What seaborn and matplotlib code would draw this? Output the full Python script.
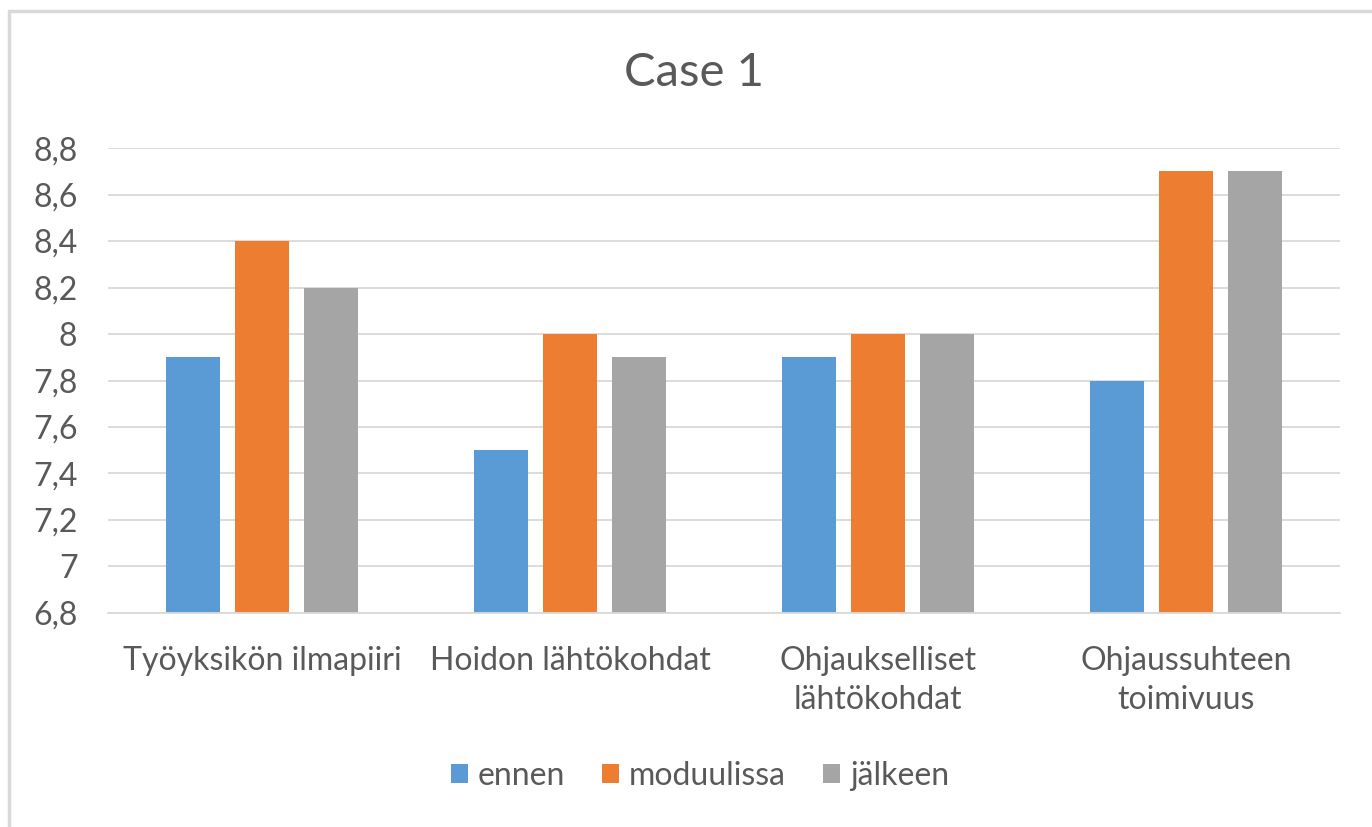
import pandas as pd
import matplotlib.pyplot as plt
import seaborn as sns
from matplotlib.ticker import FuncFormatter, MultipleLocator
from matplotlib.patches import Rectangle

# Data
categories = ['Työyksikön ilmapiiri', 'Hoidon lähtökohdat',
              'Ohjaukselliset\nlähtökohdat', 'Ohjaussuhteen\ntoimivuus']
series = ['ennen', 'moduulissa', 'jälkeen']
ennen = [7.9, 7.5, 7.9, 7.8]
moduulissa = [8.4, 8.0, 8.0, 8.7]
jalkeen = [8.2, 7.9, 8.0, 8.7]
colors = ['#5B9BD5', '#ED7D31', '#A5A5A5']

df = pd.DataFrame({'kategoria': categories * 3,
                   'sarja': [s for s in series for _ in categories],
                   'arvo': ennen + moduulissa + jalkeen})

sns.set_style('white')
plt.rcParams['font.family'] = ['Lato', 'DejaVu Sans']
text_col = '#595959'

fig = plt.figure(figsize=(13.72, 8.27), dpi=100)
ax = fig.add_axes([0.0787, 0.2588, 0.898, 0.5622])

sns.barplot(data=df, x='kategoria', y='arvo', hue='sarja', palette=colors,
            width=0.672, gap=0.205, saturation=1, linewidth=0,
            edgecolor='none', ax=ax, legend=True)

# bars should start at axis bottom
ax.set_ylim(6.8, 8.8)
for p in ax.patches:
    h = p.get_height()
    if p.get_y() == 0:
        p.set_y(6.8)
        p.set_height(h - 6.8)

ax.yaxis.set_major_locator(MultipleLocator(0.2))
ax.yaxis.set_major_formatter(FuncFormatter(lambda v, _: f'{v:.1f}'.rstrip('0').rstrip('.').replace('.', ',')))
ax.grid(axis='y', color='#D9D9D9', linewidth=1.3)
ax.set_axisbelow(True)
for s in ['top', 'right', 'left']:
    ax.spines[s].set_visible(False)
ax.spines['bottom'].set_color('#D9D9D9')
ax.spines['bottom'].set_linewidth(1.3)
ax.tick_params(axis='both', length=0, labelsize=23, colors=text_col)
ax.tick_params(axis='x', pad=24)
ax.tick_params(axis='y', pad=22)
for t in ax.get_xticklabels():
    t.set_linespacing(1.35)
ax.set_xlabel('')
ax.set_ylabel('')

fig.text(0.506, 0.912, 'Case 1', ha='center', va='center', fontsize=34, color=text_col)

handles, labels = ax.get_legend_handles_labels()
ax.legend_.remove()
fig.legend(handles, labels, loc='center', bbox_to_anchor=(0.51, 0.062), ncol=3,
           frameon=False, fontsize=23, labelcolor=text_col, handlelength=0.55,
           handleheight=0.55, handletextpad=0.3, columnspacing=1.15)

# chart border (top/left visible in reference)
fig.patches.append(Rectangle((0.0066, -0.01), 1.5, 1.0027 - 0.0066, transform=fig.transFigure,
                             fill=False, edgecolor='#D9D9D9', linewidth=2.5))

plt.savefig('out.png')
